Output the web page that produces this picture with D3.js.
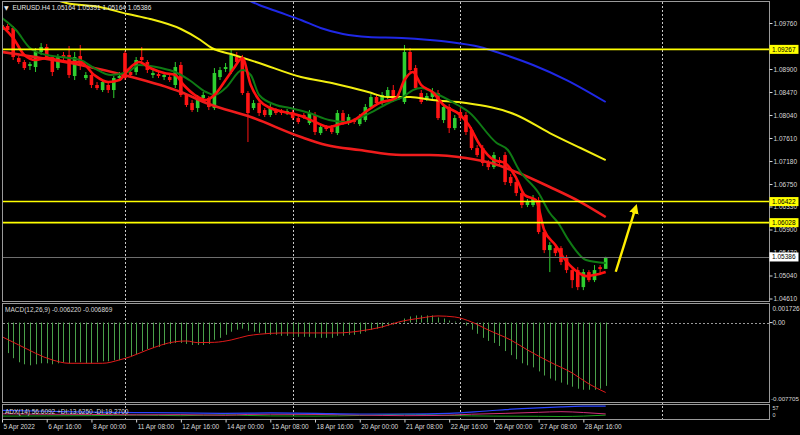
<!DOCTYPE html>
<html><head><meta charset="utf-8">
<script src="https://cdn.jsdelivr.net/npm/d3@7"></script>
<style>
html,body{margin:0;padding:0;background:#000;}
svg{display:block;}
text{font-family:"Liberation Sans",Arial,sans-serif;}
</style></head><body>
<svg id="c" width="800" height="435"></svg>
<script>
// ---------------- DATA ----------------
const titleText = "EURUSD.H4  1.05164 1.05391 1.05164 1.05386";
const macdTitle = "MACD(12,26,9) -0.006220 -0.006869";
const adxTitle = "ADX(14) 56.6092 +DI:13.6250 -DI:19.2700";

const open = [1.09629,1.09704,1.09666,1.09105,1.09031,1.08956,1.08937,1.09218,1.09311,1.09124,
1.08918,1.09162,1.09162,1.08769,1.09143,1.08731,1.08788,1.08601,1.08507,1.08601,
1.08507,1.08731,1.09199,1.08844,1.08844,1.09124,1.09031,1.08788,1.08806,1.08750,
1.08750,1.08601,1.08975,1.08414,1.08264,1.08170,1.08357,1.08357,1.08170,1.08750,
1.08900,1.08844,1.09124,1.09105,1.08451,1.08170,1.08264,1.08133,1.08040,1.08133,
1.08114,1.08077,1.08096,1.07983,1.08040,1.07890,1.08040,1.07703,1.07815,1.07796,
1.07703,1.08077,1.07890,1.07946,1.07871,1.07946,1.08189,1.08376,1.08264,1.08376,
1.08507,1.08357,1.08283,1.09218,1.08918,1.08451,1.08339,1.08376,1.08451,1.07946,
1.08189,1.07796,1.08096,1.08040,1.07759,1.07422,1.07422,1.07142,1.07067,1.07198,
1.07292,1.06880,1.06787,1.06581,1.06357,1.06357,1.06450,1.05852,1.05515,1.05552,
1.05552,1.05366,1.05141,1.05141,1.04823,1.05104,1.04954,1.05197,1.05164];
const high = [1.09797,1.09741,1.09704,1.09143,1.09068,1.09031,1.09292,1.09386,1.09367,1.09162,
1.09180,1.09218,1.09330,1.09218,1.09349,1.08844,1.08844,1.08657,1.08694,1.08638,
1.08769,1.08844,1.09236,1.08881,1.09124,1.09311,1.09068,1.08881,1.08844,1.08844,
1.08806,1.09031,1.09031,1.08451,1.08320,1.08414,1.08470,1.08395,1.08918,1.08937,
1.09012,1.09255,1.09218,1.09162,1.08488,1.08320,1.08320,1.08170,1.08245,1.08170,
1.08152,1.08152,1.08133,1.08040,1.08077,1.08133,1.08096,1.07871,1.07853,1.07853,
1.08133,1.08133,1.08058,1.07983,1.08058,1.08245,1.08432,1.08432,1.08470,1.08563,
1.08601,1.08451,1.09349,1.09292,1.08975,1.08507,1.08451,1.08544,1.08507,1.08245,
1.08245,1.08040,1.08170,1.08096,1.07815,1.07479,1.07479,1.07198,1.07348,1.07254,
1.07348,1.06936,1.06843,1.06637,1.06469,1.06544,1.06506,1.05908,1.05665,1.05609,
1.05590,1.05422,1.05197,1.05197,1.05160,1.05141,1.05235,1.05235,1.05391];
const low = [1.09573,1.09592,1.09068,1.08993,1.08881,1.08881,1.08844,1.09162,1.09068,1.08769,
1.08881,1.09068,1.08731,1.08694,1.08881,1.08694,1.08544,1.08507,1.08470,1.08451,
1.08357,1.08694,1.08694,1.08750,1.08788,1.09012,1.08825,1.08731,1.08731,1.08694,
1.08657,1.08544,1.08376,1.08189,1.08096,1.08096,1.08320,1.08133,1.08133,1.08694,
1.08844,1.08806,1.08993,1.08414,1.07535,1.08133,1.08021,1.08002,1.08002,1.08040,
1.08040,1.08040,1.07946,1.07871,1.07965,1.07853,1.07666,1.07666,1.07740,1.07684,
1.07666,1.07853,1.07853,1.07871,1.07834,1.07909,1.08152,1.08208,1.08227,1.08339,
1.08283,1.08320,1.08245,1.08844,1.08507,1.08245,1.08301,1.08339,1.07946,1.07890,
1.07703,1.07759,1.07927,1.07666,1.07385,1.07254,1.07086,1.07011,1.07030,1.07086,
1.06731,1.06712,1.06525,1.06300,1.06319,1.06319,1.05814,1.05459,1.05104,1.05403,
1.05235,1.05085,1.04804,1.04767,1.04767,1.04917,1.04917,1.05048,1.05164];
const close = [1.09723,1.09629,1.09124,1.09031,1.08918,1.08993,1.09218,1.09311,1.09105,1.08844,
1.09124,1.09124,1.08788,1.09124,1.08956,1.08788,1.08601,1.08544,1.08657,1.08507,
1.08731,1.08769,1.08731,1.08788,1.09068,1.09068,1.08881,1.08825,1.08769,1.08788,
1.08694,1.08937,1.08414,1.08227,1.08133,1.08320,1.08414,1.08189,1.08825,1.08881,
1.08937,1.09162,1.09031,1.08451,1.08077,1.08264,1.08077,1.08040,1.08189,1.08077,
1.08077,1.08114,1.07983,1.07909,1.08002,1.08077,1.07722,1.07815,1.07778,1.07722,
1.08077,1.07890,1.08002,1.07909,1.08002,1.08189,1.08376,1.08264,1.08414,1.08507,
1.08320,1.08395,1.09218,1.08881,1.08544,1.08283,1.08395,1.08470,1.07983,1.08189,
1.07796,1.07983,1.07983,1.07722,1.07422,1.07292,1.07142,1.07067,1.07292,1.07142,
1.06787,1.06768,1.06581,1.06357,1.06413,1.06487,1.05852,1.05515,1.05609,1.05459,
1.05291,1.05141,1.04954,1.04823,1.05104,1.04954,1.05141,1.05160,1.05386];

// moving averages: [bar index, price]
const maFastRed = [[0,1.09704],[2,1.09480],[4,1.09162],[6,1.09068],[8,1.09105],[10,1.09068],[12,1.09031],[14,1.09031],[16.5,1.08788],[19,1.08657],[21,1.08694],[22.5,1.08881],[24.5,1.09031],[26.5,1.08918],[29,1.08825],[31,1.08788],[32.5,1.08601],[34.5,1.08414],[36.5,1.08320],[38,1.08414],[40,1.08694],[41.5,1.08918],[43,1.09105],[44.5,1.08601],[46,1.08320],[48,1.08171],[50.5,1.08096],[53.5,1.08021],[56,1.07909],[58.5,1.07815],[60.5,1.07872],[63,1.07946],[65,1.08096],[67.5,1.08264],[70.5,1.08358],[72,1.08694],[73.5,1.08844],[75,1.08601],[77,1.08470],[79,1.08227],[82,1.08040],[83.5,1.07853],[85.5,1.07479],[88,1.07199],[90,1.07142],[92,1.06862],[93.5,1.06544],[95.5,1.06450],[97,1.05889],[99,1.05609],[100.5,1.05366],[102.5,1.05141],[104.5,1.05029],[106,1.05048],[108,1.05104]];
const maGreen = [[0,1.09854],[2.5,1.09629],[5,1.09293],[8,1.09162],[10.5,1.09124],[14,1.09068],[16.5,1.08918],[19.5,1.08788],[22.5,1.08844],[24.5,1.08975],[28.5,1.08918],[31,1.08844],[33.5,1.08694],[36.5,1.08470],[38,1.08414],[40,1.08545],[43,1.08881],[44.5,1.08788],[46,1.08414],[49,1.08227],[51.5,1.08171],[55,1.08077],[58.5,1.07946],[61.5,1.07909],[64,1.07984],[66.5,1.08114],[69.5,1.08283],[72,1.08395],[73.5,1.08507],[75,1.08545],[77,1.08470],[81.5,1.08227],[83.5,1.08096],[88.5,1.07517],[90.5,1.07386],[92.5,1.07012],[96,1.06582],[98,1.06208],[99.5,1.06021],[101.5,1.05677],[104.5,1.05329],[108,1.05273]];
const maSlowRed = [[0,1.09218],[7,1.09105],[14,1.08975],[22.5,1.08769],[32,1.08470],[37,1.08246],[44.5,1.08002],[53.5,1.07628],[58,1.07479],[64,1.07385],[71.5,1.07292],[76.5,1.07292],[83,1.07236],[87.5,1.07142],[92,1.06974],[98,1.06694],[103.5,1.06413],[108,1.06133]];
const maYellow = [[5,1.10400],[11.5,1.10134],[17.5,1.10059],[22.5,1.09928],[26.5,1.09835],[32,1.09648],[35.5,1.09442],[37.5,1.09293],[41.5,1.09162],[46,1.09012],[53.5,1.08750],[59,1.08638],[65.5,1.08470],[69,1.08376],[73,1.08376],[77,1.08320],[83,1.08264],[92,1.08040],[98,1.07703],[103.5,1.07423],[108,1.07198]];
const maBlue = [[38,1.10550],[44,1.10190],[46,1.10097],[49.5,1.09966],[53.5,1.09816],[57,1.09667],[61,1.09554],[65.5,1.09498],[71.5,1.09480],[76.5,1.09442],[80,1.09405],[85.5,1.09311],[89,1.09199],[95,1.08975],[101,1.08694],[108,1.08283]];

const levels = [1.09267, 1.06422, 1.06028];
const lastPrice = 1.05386;
const arrowFrom = [109.8, 1.05110];
const arrowTo = [113.3, 1.06290];

const priceTicks = [1.09760,1.08900,1.08470,1.08040,1.07610,1.07180,1.06750,1.06330,1.05900,1.05470,1.05040,1.04610];
const timeTickBars = [0,8,16,24,32,40,48,56,64,72,80,88,96,104];
const timeLabels = ["5 Apr 2022","6 Apr 16:00","8 Apr 00:00","11 Apr 08:00","12 Apr 16:00","14 Apr 00:00","15 Apr 08:00","18 Apr 16:00","20 Apr 00:00","21 Apr 08:00","22 Apr 16:00","26 Apr 00:00","27 Apr 08:00","28 Apr 16:00"];
const separatorBars = [22, 52, 82, 118];

const macdHist = [-0.0025,-0.0030,-0.0035,-0.0039,-0.0041,-0.0042,-0.0041,-0.0040,-0.0040,-0.0041,
-0.0040,-0.0039,-0.0040,-0.0039,-0.0039,-0.0040,-0.0040,-0.0039,-0.0038,-0.0038,
-0.0037,-0.0037,-0.0034,-0.0033,-0.0031,-0.0028,-0.0026,-0.0025,-0.0024,-0.0022,
-0.0021,-0.0020,-0.0020,-0.0021,-0.0022,-0.0022,-0.0022,-0.0021,-0.0017,-0.0015,
-0.0012,-0.0009,-0.0007,-0.0006,-0.0008,-0.0009,-0.0010,-0.0011,-0.0012,-0.0012,
-0.0013,-0.0013,-0.0014,-0.0014,-0.0014,-0.0014,-0.0015,-0.0015,-0.0015,-0.0015,
-0.0013,-0.0013,-0.0012,-0.0012,-0.0011,-0.0009,-0.0007,-0.0006,-0.0005,-0.0003,
-0.0002,-0.0001,0.0004,0.0006,0.0007,0.0007,0.0007,0.0007,0.0005,0.0004,
0.0002,0.0001,-0.0001,-0.0003,-0.0007,-0.0011,-0.0015,-0.0018,-0.0020,-0.0023,
-0.0028,-0.0032,-0.0036,-0.0040,-0.0042,-0.0044,-0.0048,-0.0052,-0.0055,-0.0057,
-0.0059,-0.0061,-0.0063,-0.0065,-0.0066,-0.0066,-0.0066,-0.0065,-0.00622];
const macdSignal = [[0,-0.00139],[3,-0.00220],[9,-0.00367],[12,-0.00400],[18,-0.00400],[21,-0.00367],[23,-0.00335],[26,-0.00269],[31,-0.00188],[33,-0.00181],[35,-0.00197],[38,-0.00194],[41,-0.00171],[44,-0.00129],[46,-0.00115],[50,-0.00102],[53,-0.00102],[57,-0.00102],[60,-0.00102],[64,-0.00083],[68,-0.00043],[71,0.00006],[75,0.00045],[78,0.00065],[81,0.00055],[84,0.00006],[87,-0.00073],[91,-0.00171],[94,-0.00269],[98,-0.00387],[102,-0.00495],[105,-0.00603],[108,-0.006869]];
const macdScaleLabels = [0.001726, 0, -0.007705];

const adxMain = [[0,36],[8,32],[16,28],[24,26],[32,24],[40,22],[48,24],[56,22],[64,19],[72,19],[80,22],[86,32],[90,40],[95,47],[100,53],[104,56],[108,56.6]];
const plusDI = [[0,9],[8,10],[16,11],[24,14],[32,11],[40,15],[44,12],[48,10],[56,9],[64,12],[72,18],[76,16],[80,12],[88,9],[96,8],[100,7],[104,9],[108,13.6]];
const minusDI = [[0,20],[8,18],[16,17],[24,15],[32,16],[40,13],[44,17],[48,18],[56,17],[64,14],[72,11],[78,12],[84,18],[90,22],[96,27],[100,30],[104,26],[108,19.3]];
const adxScaleLabels = [57, 0];

// ---------------- DRAW ----------------
const svg = d3.select("#c");
const AX = 769.5; // right axis line
const x = d3.scaleLinear().domain([0,108]).range([2,605.7]);
const y = d3.scaleLinear().domain([1.04610,1.09760]).range([298.5,23]);
const ym = d3.scaleLinear().domain([-0.007705,0.001726]).range([401,305]);
const ya = d3.scaleLinear().domain([0,57]).range([418,406]);

svg.append("rect").attr("width",800).attr("height",435).attr("fill","#000");
const defs = svg.append("defs");
defs.append("clipPath").attr("id","cm").append("rect").attr("x",3).attr("y",2).attr("width",766).attr("height",299);
defs.append("clipPath").attr("id","cd").append("rect").attr("x",3).attr("y",304).attr("width",766).attr("height",98);
defs.append("clipPath").attr("id","ca").append("rect").attr("x",3).attr("y",405).attr("width",766).attr("height",14);

const txtCol = "#d8d8d8", frameCol = "#9a9a9a";

// separators (dashed)
svg.append("g").selectAll("line").data(separatorBars).join("line")
  .attr("x1",d=>Math.round(x(d))+0.5).attr("x2",d=>Math.round(x(d))+0.5)
  .attr("y1",2).attr("y2",419).attr("stroke","#c8c8c8").attr("stroke-width",1).attr("stroke-dasharray","2,2");

// MACD zero line
svg.append("line").attr("x1",3).attr("x2",AX).attr("y1",Math.round(ym(0))+0.5).attr("y2",Math.round(ym(0))+0.5)
  .attr("stroke","#9a9a9a").attr("stroke-dasharray","2,2");

// candles
const bars = d3.range(open.length).map(i=>({i,o:open[i],h:high[i],l:low[i],c:close[i]}));
const bull="#2fcf2f", bear="#ff1414";
const gC = svg.append("g").attr("clip-path","url(#cm)");
gC.selectAll("line.w").data(bars).join("line").attr("class","w")
  .attr("x1",d=>x(d.i)).attr("x2",d=>x(d.i)).attr("y1",d=>y(d.h)).attr("y2",d=>y(d.l))
  .attr("stroke",d=>d.c>=d.o?bull:bear).attr("stroke-width",1);
gC.selectAll("rect").data(bars).join("rect")
  .attr("x",d=>x(d.i)-1.8).attr("width",3.6)
  .attr("y",d=>y(Math.max(d.o,d.c))).attr("height",d=>Math.max(1,Math.abs(y(d.o)-y(d.c))))
  .attr("fill",d=>d.c>=d.o?bull:bear);

// moving averages
const line = d3.line().x(d=>x(d[0])).y(d=>y(d[1])).curve(d3.curveMonotoneX);
const gM = svg.append("g").attr("clip-path","url(#cm)").attr("fill","none");
gM.append("path").attr("d",line(maBlue)).attr("stroke","#1f28e6").attr("stroke-width",2);
gM.append("path").attr("d",line(maYellow)).attr("stroke","#f2ee10").attr("stroke-width",2);
gM.append("path").attr("d",line(maSlowRed)).attr("stroke","#f01c1c").attr("stroke-width",2.6);
gM.append("path").attr("d",line(maGreen)).attr("stroke","#0f7a14").attr("stroke-width",2);
gM.append("path").attr("d",line(maFastRed)).attr("stroke","#ff1010").attr("stroke-width",2.6);

// horizontal levels
svg.append("g").selectAll("line").data(levels).join("line")
  .attr("x1",3).attr("x2",AX).attr("y1",d=>y(d)).attr("y2",d=>y(d))
  .attr("stroke","#ffff00").attr("stroke-width",1.6);
svg.append("line").attr("x1",3).attr("x2",AX).attr("y1",Math.round(y(lastPrice))+0.5).attr("y2",Math.round(y(lastPrice))+0.5)
  .attr("stroke","#6e6e6e").attr("stroke-width",1);

// arrow
defs.append("marker").attr("id","ah").attr("viewBox","0 0 10 10").attr("refX",5).attr("refY",5)
  .attr("markerWidth",4).attr("markerHeight",4).attr("orient","auto")
  .append("path").attr("d","M0,0 L10,5 L0,10 z").attr("fill","#ffee00");
svg.append("line").attr("x1",x(arrowFrom[0])).attr("y1",y(arrowFrom[1])).attr("x2",x(arrowTo[0])).attr("y2",y(arrowTo[1]))
  .attr("stroke","#ffee00").attr("stroke-width",2.4).attr("marker-end","url(#ah)");

// MACD histogram + signal
const gD = svg.append("g").attr("clip-path","url(#cd)");
gD.selectAll("line").data(macdHist).join("line")
  .attr("x1",(d,i)=>Math.round(x(i))+0.5).attr("x2",(d,i)=>Math.round(x(i))+0.5)
  .attr("y1",ym(0)).attr("y2",d=>ym(d)).attr("stroke","#4aa04a").attr("stroke-width",1);
gD.append("path").attr("d",d3.line().x(d=>x(d[0])).y(d=>ym(d[1])).curve(d3.curveMonotoneX)(macdSignal))
  .attr("fill","none").attr("stroke","#e01a1a").attr("stroke-width",1);

// ADX
const la = d3.line().x(d=>x(d[0])).y(d=>ya(d[1])).curve(d3.curveMonotoneX);
const gA = svg.append("g").attr("clip-path","url(#ca)").attr("fill","none");
gA.append("path").attr("d",la(plusDI)).attr("stroke","#1fa01f").attr("stroke-width",1);
gA.append("path").attr("d",la(minusDI)).attr("stroke","#d0307a").attr("stroke-width",1);
gA.append("path").attr("d",la(adxMain)).attr("stroke","#2a44ff").attr("stroke-width",1.2);

// frames
const fr = svg.append("g").attr("stroke",frameCol).attr("fill","none").attr("stroke-width",1);
fr.append("rect").attr("x",2.5).attr("y",1.5).attr("width",AX-2.5).attr("height",300);
fr.append("rect").attr("x",2.5).attr("y",303.5).attr("width",AX-2.5).attr("height",99);
fr.append("rect").attr("x",2.5).attr("y",404.5).attr("width",AX-2.5).attr("height",15);

// price axis
const yAxis = d3.axisRight(y).tickValues(priceTicks).tickFormat(d=>d.toFixed(5)).tickSize(3).tickPadding(1);
const ga = svg.append("g").attr("transform",`translate(${AX},0)`).call(yAxis);
ga.select(".domain").remove();
ga.selectAll("line").attr("stroke",txtCol);
ga.selectAll("text").attr("fill",txtCol).style("font-size","6.5px").style("font-family","Liberation Sans, Arial, sans-serif");

// level labels
const lab = svg.append("g");
levels.forEach(v=>{
  lab.append("rect").attr("x",AX).attr("y",y(v)-4.5).attr("width",29).attr("height",9).attr("fill","#ffff00");
  lab.append("text").attr("x",AX+2.5).attr("y",y(v)).attr("dy","0.35em").attr("fill","#000").style("font-size","6.5px").text(v.toFixed(5));
});
lab.append("rect").attr("x",AX).attr("y",y(lastPrice)-4.5).attr("width",29).attr("height",9).attr("fill","#ffffff");
lab.append("text").attr("x",AX+2.5).attr("y",y(lastPrice)).attr("dy","0.35em").attr("fill","#000").style("font-size","6.5px").text(lastPrice.toFixed(5));

// MACD scale labels
const mfmt = d=> d===0 ? "0.00" : d.toFixed(6);
svg.append("g").selectAll("text").data(macdScaleLabels).join("text")
  .attr("x",d=>d<0?AX+1.5:AX+3).attr("y",d=>d===0?ym(d):(d>0?ym(d)+4:ym(d)-2)).attr("dy","0.35em")
  .attr("fill",txtCol).style("font-size",d=>d<0?"6.2px":"6.5px").text(mfmt);
svg.append("line").attr("x1",AX).attr("x2",AX+3).attr("y1",ym(0)).attr("y2",ym(0)).attr("stroke",txtCol);

// ADX scale labels
svg.append("g").selectAll("text").data(adxScaleLabels).join("text")
  .attr("x",AX+3).attr("y",(d,i)=>i===0?408.5:415).attr("dy","0.35em")
  .attr("fill",txtCol).style("font-size","5.5px").text(d=>d);

// time axis
const xAxis = d3.axisBottom(x).tickValues(timeTickBars).tickFormat((d,i)=>timeLabels[i]).tickSize(3).tickPadding(2);
const gx = svg.append("g").attr("transform","translate(0,419.5)").call(xAxis);
gx.select(".domain").remove();
gx.selectAll("line").attr("stroke",txtCol);
gx.selectAll("text").attr("fill",txtCol).attr("text-anchor","start").attr("x",1)
  .style("font-size","6.5px").style("font-family","Liberation Sans, Arial, sans-serif");

// titles
svg.append("text").attr("x",4).attr("y",9.5).attr("fill","#e8e8e8").style("font-size","6px").style("font-family","DejaVu Sans").text("\u25BC");
svg.append("text").attr("x",12.5).attr("y",9.5).attr("fill","#e8e8e8").style("font-size","6.5px").text(titleText);
svg.append("text").attr("x",5).attr("y",311.5).attr("fill",txtCol).style("font-size","6.5px").text(macdTitle);
svg.append("text").attr("x",5).attr("y",414).attr("fill",txtCol).style("font-size","6.5px").text(adxTitle);
</script>
</body></html>
